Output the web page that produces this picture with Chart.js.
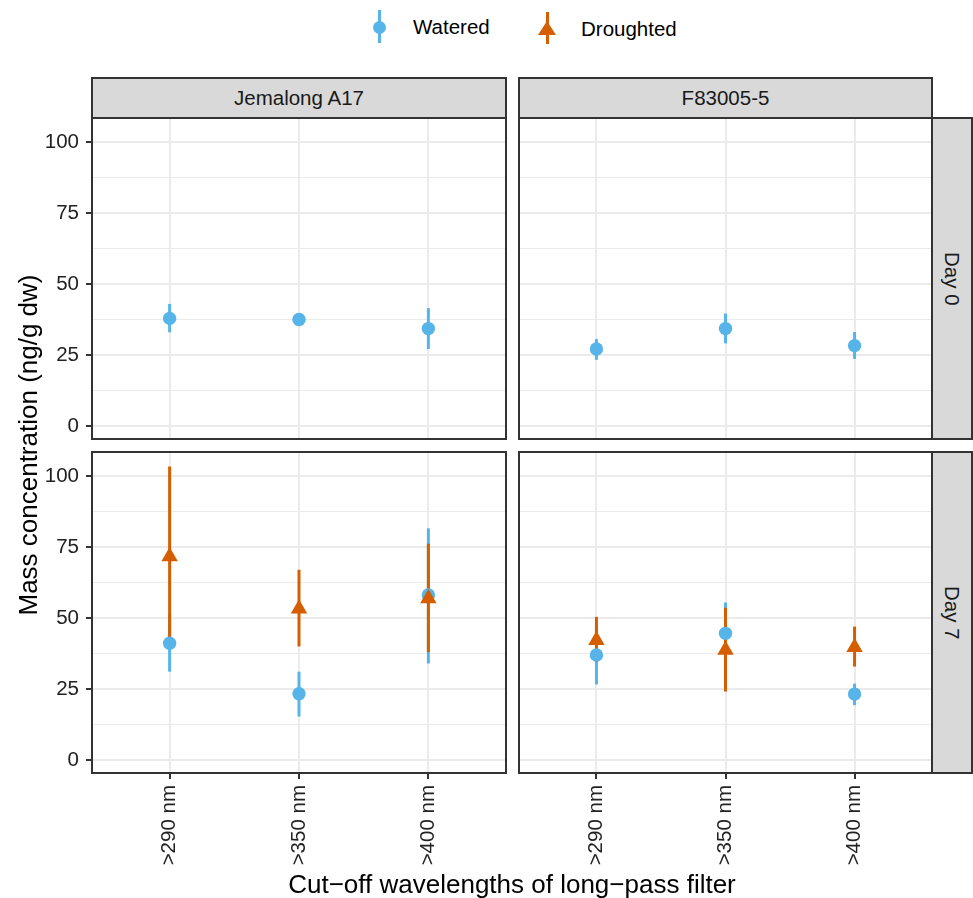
<!DOCTYPE html>
<html>
<head>
<meta charset="utf-8">
<script src="https://cdn.jsdelivr.net/npm/chart.js@4.4.1/dist/chart.umd.min.js"></script>
<style>
  body { margin:0; width:973px; height:898px; background:#fff; position:relative; overflow:hidden;
         font-family:"Liberation Sans", Arial, sans-serif; }
  canvas { position:absolute; }
  .strip { position:absolute; background:#d9d9d9; border:2px solid #333; box-sizing:border-box;
           display:flex; align-items:center; justify-content:center; font-size:20.5px; color:#1a1a1a; }
  .strip.side { writing-mode:vertical-rl; }
  .txt { position:absolute; white-space:nowrap; color:#000; line-height:1; }
</style>
</head>
<body>
<canvas id="p0"></canvas>
<canvas id="p1"></canvas>
<canvas id="p2"></canvas>
<canvas id="p3"></canvas>

<div class="strip" style="left:91px;top:77px;width:416px;height:42px">Jemalong A17</div>
<div class="strip" style="left:518px;top:77px;width:415px;height:42px">F83005-5</div>
<div class="strip side" style="left:931px;top:117px;width:42px;height:323px">Day 0</div>
<div class="strip side" style="left:931px;top:451px;width:42px;height:323px">Day 7</div>

<!-- legend -->
<div style="position:absolute;left:378px;top:10px;width:3px;height:33px;background:#56B4E9"></div>
<div style="position:absolute;left:372.5px;top:20.5px;width:13px;height:13px;border-radius:50%;background:#56B4E9"></div>
<div class="txt" style="left:413px;top:17px;font-size:20.5px">Watered</div>
<div style="position:absolute;left:545.5px;top:12px;width:3px;height:32px;background:#D55E00"></div>
<div style="position:absolute;left:538px;top:21px;width:0;height:0;border-left:9px solid transparent;border-right:9px solid transparent;border-bottom:14px solid #D55E00"></div>
<div class="txt" style="left:581px;top:19px;font-size:20.5px">Droughted</div>

<div class="txt" style="left:-272px;top:432px;width:600px;text-align:center;font-size:26px;transform:rotate(-90deg)">Mass concentration (ng/g dw)</div>
<div class="txt" style="left:212px;top:871px;width:600px;text-align:center;font-size:26px">Cut&#8722;off wavelengths of long&#8722;pass filter</div>

<script>
const wavelengths = ['>290 nm', '>350 nm', '>400 nm'];
const genotypes = ['Jemalong A17', 'F83005-5'];
const days = ['Day 0', 'Day 7'];
const yTicks = [0, 25, 50, 75, 100];
const yMinorTicks = [12.5, 37.5, 62.5, 87.5];

// panels: A17 Day 0, F83005-5 Day 0, A17 Day 7, F83005-5 Day 7
const wateredMean = [[37.9, 37.5, 34.3], [27.1, 34.3, 28.3], [41.1, 23.3, 58.1], [37.0, 44.6, 23.2]];
const wateredLow  = [[33.0, 36.6, 27.1], [23.3, 29.1, 23.6], [31.1, 15.3, 34.0], [26.6, 34.5, 19.3]];
const wateredHigh = [[43.0, 38.4, 41.5], [30.6, 39.6, 33.1], [51.0, 31.1, 81.6], [47.4, 55.5, 26.9]];
const droughtedMean = [[], [], [71.7, 53.3, 56.9], [42.2, 38.7, 39.7]];
const droughtedLow  = [[], [], [40.5, 40.0, 38.0], [34.6, 24.1, 32.9]];
const droughtedHigh = [[], [], [103.4, 67.0, 76.2], [50.4, 53.6, 47.0]];

const blue = '#56B4E9', orange = '#D55E00';
Chart.defaults.font.family = '"Liberation Sans", Arial, sans-serif';

function toPoints(mean, lo, hi) {
  return mean.map((m, i) => ({ x: i + 1, y: m, yMin: lo[i], yMax: hi[i] }));
}

const errorBars = {
  id: 'errorBars',
  beforeDatasetsDraw(chart) {
    const { ctx, chartArea } = chart;
    const xs = chart.scales.x, ys = chart.scales.y;
    ctx.save();
    ctx.beginPath();
    ctx.rect(chartArea.left, chartArea.top, chartArea.right - chartArea.left, chartArea.bottom - chartArea.top);
    ctx.clip();
    chart.data.datasets.forEach(ds => {
      ctx.strokeStyle = ds.borderColor;
      ctx.lineWidth = 3;
      ds.data.forEach(p => {
        const px = xs.getPixelForValue(p.x);
        ctx.beginPath();
        ctx.moveTo(px, ys.getPixelForValue(p.yMin));
        ctx.lineTo(px, ys.getPixelForValue(p.yMax));
        ctx.stroke();
      });
    });
    ctx.restore();
  }
};

const panelBorder = {
  id: 'panelBorder',
  afterDraw(chart) {
    const { ctx, chartArea: a } = chart;
    ctx.save();
    ctx.strokeStyle = '#333';
    ctx.lineWidth = 2;
    ctx.strokeRect(a.left, a.top, a.right - a.left, a.bottom - a.top);
    ctx.restore();
  }
};

function noPad(s) {
  s.paddingTop = 0; s.paddingBottom = 0; s.paddingLeft = 0; s.paddingRight = 0;
}

function makePanel(idx) {
  const col = idx % 2, row = Math.floor(idx / 2);
  const cv = document.getElementById('p' + idx);
  const left = col === 0 ? 0 : 517;
  const width = col === 0 ? 508 : 417;
  const top = row === 0 ? 116 : 450;
  const height = row === 0 ? 325 : 448;
  cv.style.left = left + 'px'; cv.style.top = top + 'px';
  cv.width = width; cv.height = height;
  const yW = col === 0 ? 92 : 0;
  const xH = row === 0 ? 0 : 125;

  new Chart(cv, {
    type: 'scatter',
    data: {
      datasets: [
        { label: 'Watered', data: toPoints(wateredMean[idx], wateredLow[idx], wateredHigh[idx]),
          backgroundColor: blue, borderColor: blue, pointStyle: 'circle', pointRadius: 6.7,
          pointBorderWidth: 0, order: 1 },
        { label: 'Droughted', data: toPoints(droughtedMean[idx], droughtedLow[idx], droughtedHigh[idx]),
          backgroundColor: orange, borderColor: orange, pointStyle: 'triangle', pointRadius: 9.5,
          pointBorderWidth: 0, order: 0 }
      ]
    },
    options: {
      responsive: false,
      animation: false,
      events: [],
      layout: { autoPadding: false,
                padding: { top: 2, right: 2, left: col === 0 ? 0 : 2, bottom: row === 0 ? 2 : 0 } },
      plugins: { legend: { display: false }, tooltip: { enabled: false } },
      scales: {
        x: {
          type: 'linear', min: 0.4, max: 3.6,
          afterBuildTicks: s => { s.ticks = wavelengths.map((w, i) => ({ value: i + 1 })); },
          afterFit: s => { s.height = xH; noPad(s); },
          border: { display: false },
          grid: { color: '#EBEBEB', lineWidth: 2, drawTicks: row === 1, tickLength: 6, tickColor: '#333', tickWidth: 2 },
          ticks: { display: row === 1, autoSkip: false, minRotation: 90, maxRotation: 90, padding: 6,
                   color: '#222', font: { size: 20.5 }, callback: v => wavelengths[v - 1] }
        },
        y: {
          type: 'linear', min: -4.6, max: 108.5,
          afterBuildTicks: s => { s.ticks = yTicks.concat(yMinorTicks).sort((a, b) => a - b).map(v => ({ value: v })); },
          afterFit: s => { s.width = yW; noPad(s); },
          border: { display: false },
          grid: {
            color: '#EBEBEB',
            lineWidth: c => yTicks.includes(c.tick.value) ? 2 : 1,
            drawTicks: col === 0, tickLength: 6, tickWidth: 2,
            tickColor: c => yTicks.includes(c.tick.value) ? '#333' : 'rgba(0,0,0,0)'
          },
          ticks: { display: col === 0, autoSkip: false, padding: 7, color: '#222', font: { size: 20.5 },
                   callback: v => yTicks.includes(v) ? String(v) : '' }
        }
      }
    },
    plugins: [errorBars, panelBorder]
  });
}

[0, 1, 2, 3].forEach(makePanel);
</script>
</body>
</html>
